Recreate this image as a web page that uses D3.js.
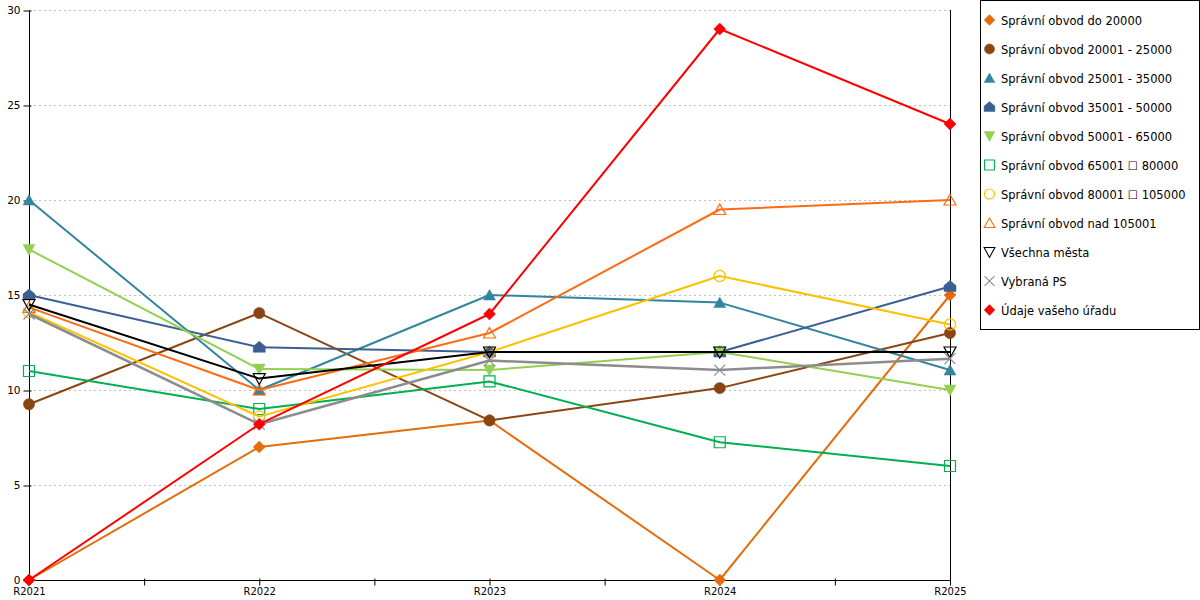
<!DOCTYPE html>
<html lang="cs">
<head>
<meta charset="UTF-8">
<script src="https://d3js.org/d3.v7.min.js"></script>
<style>
  body { margin: 0; background: #fff; }
  svg text { font-family: "DejaVu Sans", Verdana, sans-serif; }
</style>
</head>
<body>
<div id="chart"></div>
<script>
// categories (years)
var categories = ["R2021", "R2022", "R2023", "R2024", "R2025"];
var yTicks = [0, 5, 10, 15, 20, 25, 30];

// series names + values
var names = [
  "Správní obvod do 20000",
  "Správní obvod 20001 - 25000",
  "Správní obvod 25001 - 35000",
  "Správní obvod 35001 - 50000",
  "Správní obvod 50001 - 65000",
  "Správní obvod 65001 \u2610 80000",
  "Správní obvod 80001 \u2610 105000",
  "Správní obvod nad 105001",
  "Všechna města",
  "Vybraná PS",
  "Údaje vašeho úřadu"
];
var do20000    = [0, 7.0, 8.4, 0, 15];
var s20_25     = [9.25, 14.05, 8.4, 10.1, 13];
var s25_35     = [20, 10, 15, 14.6, 11.05];
var s35_50     = [15, 12.25, 12, 12, 15.45];
var s50_65     = [17.4, 11.1, 11.05, 12, 10];
var s65_80     = [11, 9, 10.45, 7.25, 6];
var s80_105    = [14.1, 8.6, 12, 16, 13.45];
var nad105     = [14.35, 10, 13, 19.5, 20];
var vsechna    = [14.5, 10.6, 12, 12, 12];
var vybranaPS  = [14, 8.2, 11.55, 11.05, 11.65];
var udaje      = [0, 8.2, 14, 29, 24];

var values = [do20000, s20_25, s25_35, s35_50, s50_65, s65_80, s80_105, nad105, vsechna, vybranaPS, udaje];
var colors = ["#e46c0a", "#8b4513", "#31859c", "#3b5f92", "#92d050", "#00b050", "#ffc000", "#ff6a13", "#000000", "#8c8c8c", "#ff0000"];
var shapes = ["diamond", "circle", "tri", "house", "tridown", "square", "circle", "tri", "tridown", "x", "diamond"];
var filled = [true, true, true, true, true, false, false, false, false, false, true];

var width = 1200, height = 600;
var svg = d3.select("#chart").append("svg").attr("width", width).attr("height", height);

var x = d3.scaleLinear().domain([0, categories.length - 1]).range([29, 950]);
var y = d3.scaleLinear().domain([0, 30]).range([580, 10]);

// grid lines
svg.append("g").selectAll("line")
  .data(yTicks.filter(d => d > 0))
  .join("line")
  .attr("x1", x(0)).attr("x2", x(4))
  .attr("y1", d => y(d) + 0.5).attr("y2", d => y(d) + 0.5)
  .attr("stroke", "#c0c0c0")
  .attr("stroke-dasharray", "2,3");

// right border line
svg.append("line")
  .attr("x1", x(4) + 0.5).attr("x2", x(4) + 0.5)
  .attr("y1", y(30)).attr("y2", y(0))
  .attr("stroke", "#000");

// y axis
var yaxis = d3.axisLeft(y).tickValues(yTicks).tickSize(6).tickPadding(3);
var gy = svg.append("g").attr("transform", "translate(" + (x(0) + 0.5) + ",0.5)").call(yaxis);
gy.select(".domain").attr("d", "M0," + y(30) + "V" + y(0));
gy.selectAll(".tick line").attr("x2", -6).attr("x1", 2);
gy.selectAll("text").attr("font-size", "10.5px").attr("fill", "#000");

// x axis, ticks at categories and in between
var xaxis = d3.axisBottom(x)
  .tickValues(d3.range(0, categories.length - 0.9, 0.5))
  .tickFormat(i => Number.isInteger(i) ? categories[i] : "")
  .tickSize(5).tickPadding(2);
var gx = svg.append("g").attr("transform", "translate(0," + (y(0) + 0.5) + ")").call(xaxis);
gx.select(".domain").attr("d", "M" + x(0) + ",0H" + x(4));
gx.selectAll(".tick line").attr("y1", -2);
gx.selectAll("text").attr("font-size", "10px").attr("fill", "#000");

function markerPath(t) {
  switch (t) {
    case "diamond": return "M0,-6L6,0L0,6L-6,0Z";
    case "circle": return d3.symbol(d3.symbolCircle, 100)();
    case "tri": return "M0,-5.5L6,5L-6,5Z";
    case "house": return "M0,-6L6,-1L6,5L-6,5L-6,-1Z";
    case "tridown": return "M-6,-5L6,-5L0,6Z";
    case "square": return "M-5.5,-5.5H5.5V5.5H-5.5Z";
    case "x": return "M-5.5,-5.5L5.5,5.5M5.5,-5.5L-5.5,5.5";
  }
}

var line = d3.line().x((d, i) => x(i)).y(d => y(d));

values.forEach(function (vals, k) {
  var g = svg.append("g");
  g.append("path")
    .datum(vals)
    .attr("fill", "none")
    .attr("stroke", colors[k])
    .attr("stroke-width", k === 9 ? 2.5 : 2)
    .attr("stroke-linejoin", "round")
    .attr("d", line);
  g.selectAll(".m")
    .data(vals)
    .join("path")
    .attr("transform", (d, i) => "translate(" + x(i) + "," + y(d) + ")")
    .attr("d", markerPath(shapes[k]))
    .attr("fill", filled[k] ? colors[k] : "#fff")
    .attr("fill-opacity", filled[k] ? 1 : 0)
    .attr("stroke", colors[k])
    .attr("stroke-width", filled[k] ? 0.5 : 1.2);
});

// legend
var lg = svg.append("g");
lg.append("rect")
  .attr("x", 980.5).attr("y", 0.5)
  .attr("width", 219).attr("height", 329)
  .attr("fill", "#fff").attr("stroke", "#000");

var items = lg.selectAll(".item")
  .data(names)
  .join("g")
  .attr("transform", (d, i) => "translate(989.5," + (20 + i * 29) + ")");
items.append("path")
  .attr("d", (d, i) => markerPath(shapes[i]))
  .attr("transform", "scale(0.9)")
  .attr("fill", (d, i) => filled[i] ? colors[i] : "none")
  .attr("stroke", (d, i) => colors[i])
  .attr("stroke-width", (d, i) => filled[i] ? 0.5 : 1.2);
items.append("text")
  .attr("x", 11.5).attr("y", 4.5)
  .attr("font-size", "11.5px")
  .attr("fill", "#000")
  .text(d => d);
</script>
</body>
</html>
